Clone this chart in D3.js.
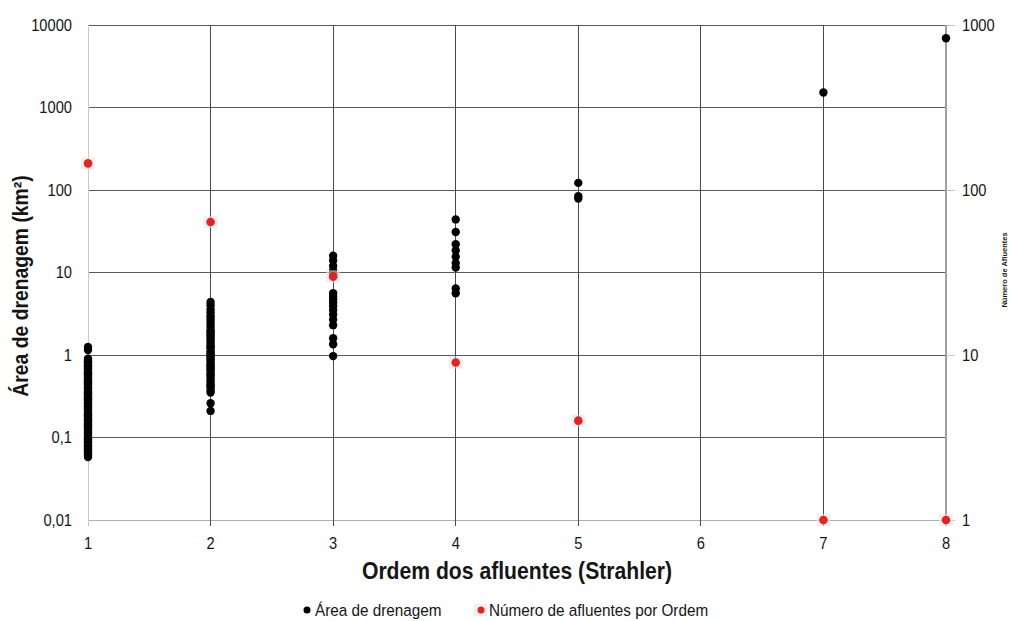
<!DOCTYPE html>
<html><head><meta charset="utf-8">
<script src="https://cdn.jsdelivr.net/npm/d3@7"></script>
<style>body{margin:0;background:#fff}svg{font-family:"Liberation Sans",Arial,sans-serif}</style>
</head><body>
<svg id="c" width="1012" height="621"></svg>
<script>
// Data
const orders = [1,2,3,4,5,6,7,8];
const leftTicks = [0.01,0.1,1,10,100,1000,10000];
const leftTickLabels = ["0,01","0,1","1","10","100","1000","10000"];
const rightTicks = [1,10,100,1000];
const rightTickLabels = ["1","10","100","1000"];
const area1 = [1.25,1.15,0.9,0.87,0.84,0.81,0.78,0.75,0.72,0.7,0.68,0.65,0.62,0.6,0.58,0.56,0.54,0.52,0.5,0.48,0.46,0.45,0.44,0.42,0.4,0.39,0.38,0.36,0.35,0.34,0.33,0.32,0.31,0.3,0.29,0.28,0.27,0.26,0.25,0.24,0.23,0.22,0.21,0.2,0.19,0.185,0.18,0.17,0.165,0.16,0.155,0.15,0.145,0.14,0.135,0.13,0.125,0.12,0.115,0.11,0.105,0.1,0.097,0.094,0.09,0.087,0.084,0.08,0.077,0.074,0.071,0.068,0.065,0.063,0.06,0.058];
const area2 = [4.4,4.0,3.6,3.3,3.0,2.8,2.6,2.4,2.2,2.0,1.9,1.8,1.7,1.6,1.5,1.4,1.3,1.25,1.2,1.1,1.05,1.0,0.95,0.9,0.85,0.8,0.75,0.72,0.68,0.65,0.6,0.57,0.54,0.5,0.47,0.44,0.42,0.4,0.37,0.35,0.26,0.21];
const area3 = [16,14,12,10.5,9.5,8.8,5.6,5.1,4.7,4.3,3.9,3.5,3.1,2.7,2.3,1.6,1.35,0.97];
const area4 = [44,31,22,18.5,15.5,13,11.5,6.4,5.6];
const area5 = [122,84,79];
const area7 = [1520];
const area8 = [6900];
const numOrder = [1,2,3,4,5,7,8];
const numAfluentes = [145,64,30,9,4,1,1];

const areaSeries = [[1,area1],[2,area2],[3,area3],[4,area4],[5,area5],[7,area7],[8,area8]];
const areaPts = areaSeries.flatMap(([o,vals]) => vals.map(v => ({o, v})));
const numPts = numOrder.map((o,i) => ({o, v: numAfluentes[i]}));

const svg = d3.select("#c");
const L = 88, R = 946, T = 25, B = 520;
const x = d3.scaleLinear().domain([1,8]).range([L,R]);
const y = d3.scaleLog().domain([0.01,10000]).range([B,T]);
const y2 = d3.scaleLog().domain([1,1000]).range([B,T]);
const TXT = "#151515";

// horizontal grid
svg.append("g").selectAll("line").data(leftTicks).join("line")
  .attr("x1",L).attr("x2",R).attr("y1",d=>y(d)).attr("y2",d=>y(d))
  .attr("stroke",d=>d===0.01?"#b0b0b0":"#5a5a5a").attr("stroke-width",1).attr("shape-rendering","crispEdges");
// right ticks
svg.append("g").selectAll("line").data(rightTicks).join("line")
  .attr("x1",R).attr("x2",R+9).attr("y1",d=>y2(d)).attr("y2",d=>y2(d))
  .attr("stroke","#c8c8c8").attr("shape-rendering","crispEdges");
// vertical grid
svg.append("g").selectAll("line").data(orders).join("line")
  .attr("x1",d=>x(d)).attr("x2",d=>x(d)).attr("y1",T).attr("y2",B+6)
  .attr("stroke",d=>(d===1)?"#c8c8c8":(d===8?"#a0a0a0":"#4a4a4a")).attr("stroke-width",d=>d===8?1.5:1)
  .attr("shape-rendering","crispEdges");

const SX = 0.89;
// left tick labels
svg.append("g").selectAll("text").data(leftTicks).join("text")
  .attr("transform",d=>`translate(${L-16},${y(d)}) scale(${SX},1)`).attr("dy","0.36em").attr("text-anchor","end")
  .attr("font-size",16.5).attr("fill",TXT).text((d,i)=>leftTickLabels[i]);
// right tick labels
svg.append("g").selectAll("text").data(rightTicks).join("text")
  .attr("transform",d=>`translate(${R+16},${y2(d)}) scale(${SX},1)`).attr("dy","0.36em").attr("text-anchor","start")
  .attr("font-size",16.5).attr("fill",TXT).text((d,i)=>rightTickLabels[i]);
// bottom tick labels
svg.append("g").selectAll("text").data(orders).join("text")
  .attr("transform",d=>`translate(${x(d)},${B+29}) scale(${SX},1)`).attr("text-anchor","middle")
  .attr("font-size",16.5).attr("fill",TXT).text(d=>d);

// titles
svg.append("text").attr("transform",`translate(${(L+R)/2},579) scale(0.92,1)`).attr("text-anchor","middle")
  .attr("font-size",23).attr("font-weight","bold").attr("fill",TXT)
  .text("Ordem dos afluentes (Strahler)");
svg.append("text").attr("transform","translate(28,286) rotate(-90) scale(0.9,1)").attr("text-anchor","middle")
  .attr("font-size",21.5).attr("font-weight","bold").attr("fill",TXT)
  .text("Área de drenagem (km²)");
svg.append("text").attr("transform","translate(1007,270) rotate(-90)").attr("text-anchor","middle")
  .attr("font-size",7.5).attr("font-weight","bold").attr("fill",TXT)
  .text("Número de Afluentes");

// area points
svg.append("g").selectAll("circle").data(areaPts).join("circle")
  .attr("cx",d=>x(d.o)).attr("cy",d=>y(d.v)).attr("r",4.2).attr("fill","#000");
// num points with faint halo
svg.append("g").selectAll("rect").data(numPts).join("rect")
  .attr("x",d=>x(d.o)-7).attr("y",d=>y2(d.v)-6).attr("width",14).attr("height",12)
  .attr("fill","#e6e6e6").attr("opacity",0.6);
svg.append("g").selectAll("circle").data(numPts).join("circle")
  .attr("cx",d=>x(d.o)).attr("cy",d=>y2(d.v)).attr("r",4.3).attr("fill","#e8211f");

// legend
const lg = svg.append("g");
lg.append("circle").attr("cx",307).attr("cy",610).attr("r",3.5).attr("fill","#000");
lg.append("text").attr("transform","translate(315,616) scale(0.9,1)").attr("font-size",17).attr("fill",TXT).text("Área de drenagem");
lg.append("rect").attr("x",474).attr("y",604).attr("width",13).attr("height",12).attr("fill","#e6e6e6").attr("opacity",0.6);
lg.append("circle").attr("cx",481).attr("cy",610).attr("r",3.5).attr("fill","#e8211f");
lg.append("text").attr("transform","translate(489,616) scale(0.9,1)").attr("font-size",17).attr("fill",TXT).text("Número de afluentes por Ordem");
</script>
</body></html>
